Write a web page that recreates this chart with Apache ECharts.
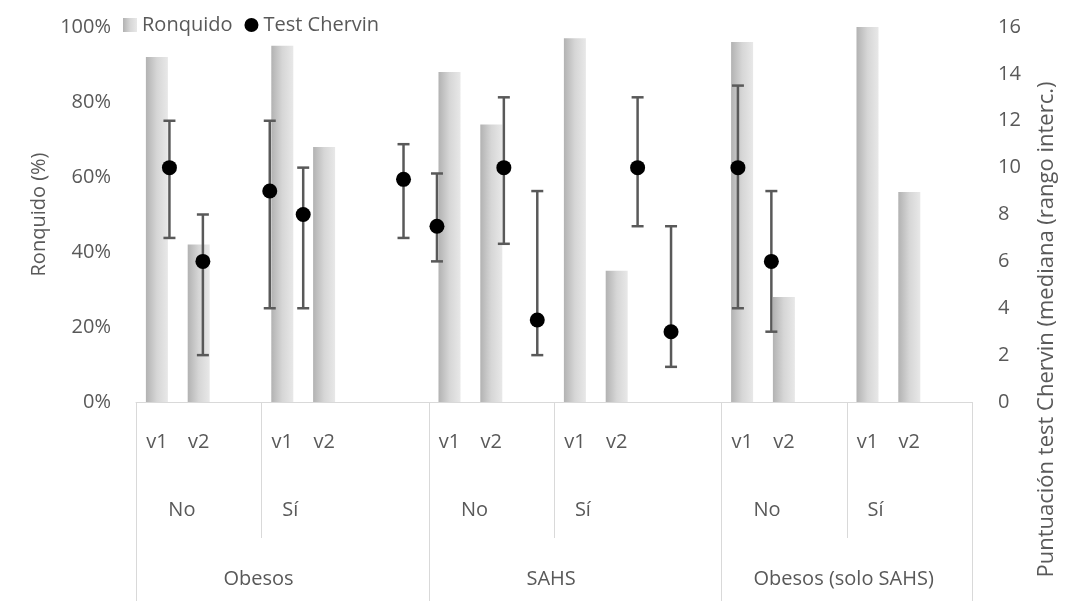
<!DOCTYPE html>
<html>
<head>
<meta charset="utf-8">
<script src="https://cdn.jsdelivr.net/npm/echarts@6/dist/echarts.min.js"></script>
<style>
  html, body { margin: 0; padding: 0; background: #fff; }
  #chart { width: 1072px; height: 601px; }
</style>
</head>
<body>
<div id="chart"></div>
<script>
// eje de categorias en tres niveles, con huecos en blanco como en el original
const visitas = ['v1', 'v2', '', 'v1', 'v2', '', '', 'v1', 'v2', '', 'v1', 'v2', '', '', 'v1', 'v2', '', 'v1', 'v2', '']
const subgrupos = ['No', '', '', 'Sí', '', '', '', 'No', '', '', 'Sí', '', '', '', 'No', '', '', 'Sí', '', '']
const grupos = ['', '', 'Obesos', '', '', '', '', '', '', 'SAHS', '', '', '', '', '', '', 'Obesos (solo SAHS)', '', '', '']

// ronquido (%) por categoria (null en los huecos)
const ronquido = [92, 42, null, 95, 68, null, null, 88, 74, null, 97, 35, null, null, 96, 28, null, 100, 56, null]

// test Chervin: posicion x (eje secundario 0-25), mediana y rango intercuartil
const chervinX = [1, 2, 4, 5, 8, 9, 11, 12, 15, 16, 18, 19]
const chervinMediana = [10, 6, 9, 8, 9.5, 7.5, 10, 3.5, 10, 3, 10, 6]
const chervinP25 = [7, 2, 4, 4, 7, 6, 6.75, 2, 7.5, 1.5, 4, 3]
const chervinP75 = [12, 8, 12, 10, 11, 9.75, 13, 9, 13, 7.5, 13.5, 9]

const gris = '#595959'
const linea = '#d9d9d9'
const fuente = 'Open Sans'

// lineas verticales de la tabla del eje: [categoria, lado (0 izq / 1 der), larga (1) o corta (0)]
const cortes = []
subgrupos.forEach((s, i) => {
  if (s === 'No') cortes.push([i, 0, 1])
  if (s === 'Sí') cortes.push([i, 0, 0])
})
cortes.push([visitas.length - 1, 1, 1])

const chart = echarts.init(document.getElementById('chart'))

const option = {
  animation: false,
  textStyle: { fontFamily: fuente },
  legend: {
    left: 118,
    top: 10,
    itemWidth: 14,
    itemHeight: 14,
    itemGap: 12,
    textStyle: { color: gris, fontSize: 20, fontFamily: fuente },
    data: [
      { name: 'Ronquido', icon: 'rect' },
      { name: 'Test Chervin', icon: 'circle' }
    ]
  },
  grid: { left: 136, right: 100, top: 27, bottom: 199, containLabel: false, outerBoundsMode: 'none' },
  xAxis: [
    {
      type: 'category',
      data: visitas,
      position: 'bottom',
      axisLine: { lineStyle: { color: linea } },
      axisTick: { show: false },
      axisLabel: { interval: 0, margin: 30, color: gris, fontSize: 20, fontFamily: fuente }
    },
    { type: 'value', min: 0, max: 25, show: false },
    {
      type: 'category',
      data: subgrupos,
      position: 'bottom',
      axisLine: { show: false },
      axisTick: { show: false },
      axisLabel: {
        interval: 0,
        margin: 98,
        color: gris,
        fontSize: 20,
        fontFamily: fuente,
        formatter: (v) => v === 'No' ? '{no|No}' : (v ? '{si|' + v + '}' : ''),
        rich: {
          no: { padding: [0, 0, 0, 50] },
          si: { padding: [0, 0, 0, 16] }
        }
      }
    },
    {
      type: 'category',
      data: grupos,
      position: 'bottom',
      axisLine: { show: false },
      axisTick: { show: false },
      axisLabel: {
        interval: 0,
        margin: 167,
        color: gris,
        fontSize: 20,
        fontFamily: fuente,
        formatter: (v) => v ? '{g|' + v + '}' : '',
        rich: { g: { padding: [0, 0, 0, 36] } }
      }
    }
  ],
  yAxis: [
    {
      type: 'value',
      min: 0,
      max: 100,
      interval: 20,
      position: 'left',
      name: 'Ronquido (%)',
      nameLocation: 'middle',
      nameGap: 84,
      nameTextStyle: { color: gris, fontSize: 20, fontFamily: fuente },
      axisLine: { show: false },
      axisTick: { show: false },
      splitLine: { show: false },
      axisLabel: { formatter: '{value}%', color: gris, fontSize: 20, fontFamily: fuente, margin: 25 }
    },
    {
      type: 'value',
      min: 0,
      max: 16,
      interval: 2,
      position: 'right',
      name: 'Puntuación test Chervin (mediana (rango interc.)',
      nameLocation: 'middle',
      nameGap: 64,
      nameTextStyle: { color: gris, fontSize: 22, fontFamily: fuente, padding: [0, 230, 0, 0] },
      axisLine: { show: false },
      axisTick: { show: false },
      splitLine: { show: false },
      axisLabel: { color: gris, fontSize: 20, fontFamily: fuente, margin: 26 }
    }
  ],
  series: [
    {
      name: 'tabla',
      type: 'custom',
      xAxisIndex: 0,
      yAxisIndex: 0,
      silent: true,
      clip: false,
      z: 1,
      data: cortes,
      encode: { x: 0, y: 1 },
      renderItem: (params, api) => {
        const p = api.coord([api.value(0), 0])
        const band = api.size([1, 0])[0]
        const x = Math.round(p[0] + (api.value(1) ? band / 2 : -band / 2)) + 0.5
        const y2 = p[1] + (api.value(2) ? 200 : 136)
        return {
          type: 'line',
          shape: { x1: x, y1: p[1], x2: x, y2: y2 },
          style: { stroke: linea, lineWidth: 1 }
        }
      }
    },
    {
      name: 'Ronquido',
      type: 'bar',
      xAxisIndex: 0,
      yAxisIndex: 0,
      data: ronquido,
      barWidth: 22,
      itemStyle: {
        color: new echarts.graphic.LinearGradient(0, 0, 1, 0, [
          { offset: 0, color: '#b2b2b2' },
          { offset: 0.5, color: '#d6d6d6' },
          { offset: 1, color: '#e8e8e8' }
        ])
      }
    },
    {
      name: 'rango',
      type: 'custom',
      xAxisIndex: 1,
      yAxisIndex: 1,
      silent: true,
      z: 3,
      data: chervinX.map((x, i) => [x, chervinP25[i], chervinP75[i]]),
      encode: { x: 0, y: [1, 2] },
      renderItem: (params, api) => {
        const x = api.value(0)
        const lo = api.coord([x, api.value(1)])
        const hi = api.coord([x, api.value(2)])
        const w = 6
        const style = { stroke: gris, lineWidth: 2.5 }
        return {
          type: 'group',
          children: [
            { type: 'line', shape: { x1: lo[0], y1: lo[1], x2: hi[0], y2: hi[1] }, style: style },
            { type: 'line', shape: { x1: lo[0] - w, y1: lo[1], x2: lo[0] + w, y2: lo[1] }, style: style },
            { type: 'line', shape: { x1: hi[0] - w, y1: hi[1], x2: hi[0] + w, y2: hi[1] }, style: style }
          ]
        }
      }
    },
    {
      name: 'Test Chervin',
      type: 'scatter',
      xAxisIndex: 1,
      yAxisIndex: 1,
      z: 4,
      symbolSize: 15,
      itemStyle: { color: '#000', opacity: 1 },
      data: chervinX.map((x, i) => [x, chervinMediana[i]])
    }
  ]
}

chart.setOption(option)
</script>
</body>
</html>
